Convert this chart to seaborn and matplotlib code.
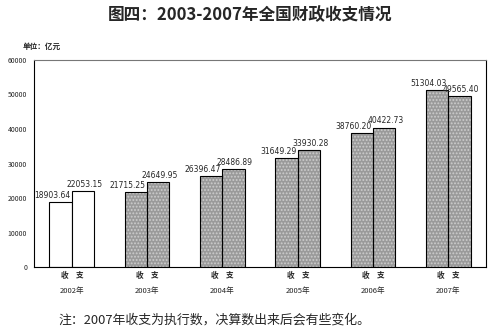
import matplotlib
matplotlib.use("Agg")
import matplotlib.pyplot as plt
import seaborn as sns
import pandas as pd
from matplotlib.patches import Rectangle

years = ['2002', '2003', '2004', '2005', '2006', '2007']
revenue = [18903.64, 21715.25, 26396.47, 31649.29, 38760.20, 51304.03]
expenditure = [22053.15, 24649.95, 28486.89, 33930.28, 40422.73, 49565.40]
kinds = ['收', '支']
title = '图四：2003-2007年全国财政收支情况'
unit = '单位：亿元'
note = '注：2007年收支为执行数，决算数出来后会有些变化。'
yticks = [0, 10000, 20000, 30000, 40000, 50000, 60000]

df = pd.DataFrame({
    'year': years * 2,
    'kind': [kinds[0]] * len(years) + [kinds[1]] * len(years),
    'value': revenue + expenditure,
})

sns.set_style('white')
plt.rcParams['font.family'] = ['Noto Sans CJK SC', 'DejaVu Sans']
plt.rcParams['hatch.linewidth'] = 0.9

fig = plt.figure(figsize=(5, 3.33), dpi=100)
ax = fig.add_axes([0.068, 0.198, 0.904, 0.622])

sns.barplot(data=df, x='year', y='value', hue='kind', order=years,
            hue_order=kinds, width=0.59, palette=['white', 'white'],
            legend=False, ax=ax, saturation=1)

for hi, cont in enumerate(ax.containers):
    for yi, bar in enumerate(cont):
        x0, y0 = bar.get_xy()
        w, h = bar.get_width(), bar.get_height()
        if yi == 0:
            bar.set_facecolor('white')
            bar.set_edgecolor('black')
            bar.set_linewidth(0.8)
        else:
            bar.set_facecolor('#9a9a9a')
            bar.set_edgecolor('#cdcdcd')
            bar.set_hatch('.....')
            bar.set_linewidth(0)
            ax.add_patch(Rectangle((x0, y0), w, h, fill=False,
                                   edgecolor='black', linewidth=0.8, zorder=3))
        val = h
        if hi == 0:
            ax.annotate(f'{val:.2f}', xy=(x0 + w, val), xytext=(-1, 1.5),
                        textcoords='offset points', ha='right', va='bottom',
                        fontsize=5.5, family=['DejaVu Sans'])
        else:
            ax.annotate(f'{val:.2f}', xy=(x0 + w / 2, val), xytext=(1, 1.5),
                        textcoords='offset points', ha='center', va='bottom',
                        fontsize=5.5, family=['DejaVu Sans'])
        ax.annotate(kinds[hi], xy=(yi + (-0.1 if hi == 0 else 0.1), 0),
                    xycoords=('data', 'axes fraction'), xytext=(0, -6),
                    textcoords='offset points', ha='center', va='center',
                    fontsize=5.5, fontweight='bold')

ax.set_xlim(-0.5, len(years) - 0.5)
ax.set_ylim(0, 60000)
ax.set_yticks(yticks)
ax.set_yticklabels([str(t) for t in yticks], fontsize=5)
ax.set_xticks(range(len(years)))
ax.set_xticklabels([y + '年' for y in years], fontsize=5.5)
ax.set_xticks([i + 0.5 for i in range(len(years) - 1)], minor=True)
ax.tick_params(axis='x', which='major', length=0, pad=14)
ax.tick_params(axis='x', which='minor', length=2, direction='in', width=0.6, color='black')
ax.tick_params(axis='y', length=2, direction='in', width=0.6, color='black', pad=5)
ax.set_xlabel('')
ax.set_ylabel('')

for side in ['left', 'bottom', 'right']:
    ax.spines[side].set_color('black')
    ax.spines[side].set_linewidth(0.8)
ax.spines['top'].set_color('#777777')
ax.spines['top'].set_linewidth(0.8)
ax.spines['top'].set_linestyle((0, (2, 1)))

fig.text(0.5, 0.955, title, ha='center', va='center', fontsize=12, fontweight='bold')
fig.text(0.046, 0.862, unit, ha='left', va='center', fontsize=5.5, fontweight='bold')
fig.text(0.116, 0.039, note, ha='left', va='center', fontsize=9.3)

fig.savefig('out.png', dpi=100)
